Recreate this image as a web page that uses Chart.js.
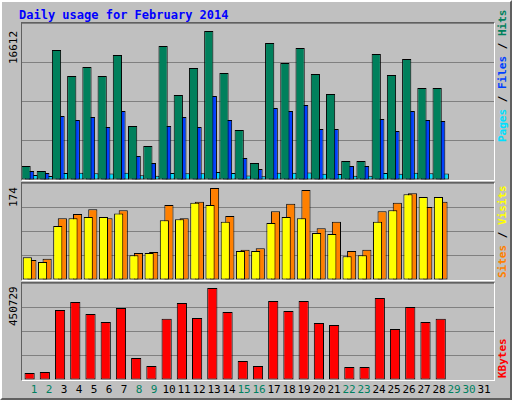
<!DOCTYPE html>
<html>
<head>
<meta charset="utf-8">
<script src="https://cdn.jsdelivr.net/npm/chart.js@4"></script>
<style>
  body { margin: 0; background: #fff; }
  #frame { position: absolute; left: 0; top: 0; width: 508px; height: 396px; background: #C0C0C0;
           border: 2px solid; border-color: #fff #606060 #606060 #fff; font-family: "DejaVu Sans Mono", monospace; }
  .panel { position: absolute; left: 19px; width: 472px; border: 1px solid; border-color: #606060 #fff #fff #606060; }
  .panel canvas { display: block; }
  .up { position: absolute; transform: rotate(-90deg); transform-origin: left top; white-space: nowrap; font-size: 11px; }
  .b { font-weight: bold; }
  #title { position: absolute; left: 17px; top: 6px; color: #0000FF; font-size: 12px; font-weight: bold; }
  .day { position: absolute; top: 381px; width: 16px; text-align: center; font-size: 11px; }
</style>
</head>
<body>
<div id="frame">
  <div id="title">Daily usage for February 2014</div>
  <div class="panel" style="top:20px;height:157px"><canvas id="c1" width="472" height="157"></canvas></div>
  <div class="panel" style="top:180px;height:97px"><canvas id="c2" width="472" height="97"></canvas></div>
  <div class="panel" style="top:280px;height:97px"><canvas id="c3" width="472" height="97"></canvas></div>
  <div class="up" style="left:5px;top:62px;color:#000">16612</div>
  <div class="up" style="left:5px;top:205px;color:#000">174</div>
  <div class="up" style="left:5px;top:324px;color:#000">450729</div>
  <div class="up b" style="left:494px;top:140px"><span style="color:#00E0FF">Pages</span> / <span style="color:#0040FF">Files</span> / <span style="color:#00805C">Hits</span></div>
  <div class="up b" style="left:494px;top:276px"><span style="color:#FF8000">Sites</span> / <span style="color:#FFFF00">Visits</span></div>
  <div class="up b" style="left:494px;top:376px;color:#FF0000">KBytes</div>
  <div id="days"></div>
</div>
<script>
const days = Array.from({length: 31}, (_, i) => String(i + 1));
const weekendDays = [1, 2, 8, 9, 15, 16, 22, 23, 29, 30];

const hits = [1561, 1004, 14495, 11596, 12600, 11596, 13938, 6021, 3791, 14941, 9478, 12488, 16612, 11931,
  5575, 1896, 15276, 13046, 14718, 11819, 9589, 2119, 2119, 14049, 11708, 13492, 10258, 10258, null, null, null];
const files = [1004, 781, 7136, 6690, 7025, 5910, 7694, 2676, 1896, 6021, 7025, 5910, 9366, 6690,
  2453, 1227, 8028, 7694, 8363, 5687, 5687, 1561, 1561, 6802, 5464, 7694, 6690, 6579, null, null, null];
const pages = [560, 450, 780, 800, 760, 720, 820, 520, 480, 790, 760, 740, 900, 780,
  500, 430, 820, 800, 840, 700, 680, 470, 460, 780, 700, 800, 740, 720, null, null, null];
const visits = [43, 34, 102, 117, 119, 119, 126, 47, 51, 113, 115, 146, 142, 110,
  55, 55, 108, 119, 117, 89, 87, 45, 47, 110, 132, 162, 157, 157, null, null, null];
const sites = [38, 40, 117, 125, 134, 117, 132, 51, 53, 142, 117, 148, 174, 121,
  57, 60, 130, 144, 170, 98, 110, 55, 57, 130, 146, 164, 138, 148, null, null, null];
const kbytes = [34296, 39195, 342930, 382122, 323334, 284142, 352728, 107778, 68586, 299839, 377223,
  303738, 450729, 333132, 93081, 68586, 387021, 338031, 387021, 279243, 269445, 63687, 63687, 401718,
  249849, 357627, 284142, 299839, null, null, null];

days.forEach((d, i) => {
  const s = document.createElement('div');
  s.className = 'day';
  s.style.left = (24 + i * 15) + 'px';
  s.style.color = weekendDays.includes(i + 1) ? '#008060' : '#000';
  s.textContent = d;
  document.getElementById('days').appendChild(s);
});

function panel(id, sets, top, cat, bar) {
  new Chart(document.getElementById(id), {
    type: 'bar',
    data: {
      labels: days,
      datasets: sets.map(s => ({ data: s[0], backgroundColor: s[1], borderColor: '#000', borderWidth: 1,
        borderSkipped: false, categoryPercentage: cat, barPercentage: bar }))
    },
    options: {
      responsive: false, animation: false,
      layout: { padding: 0 },
      plugins: { legend: { display: false }, tooltip: { enabled: false } },
      scales: {
        x: { display: false },
        y: { min: 0, max: top, ticks: { display: false, stepSize: top / 4 },
             grid: { color: '#808080', drawTicks: false }, border: { display: false } }
      }
    }
  });
}

panel('c1', [[hits, '#00805C'], [files, '#0040FF'], [pages, '#00E0FF']], 16612 * 157 / 149, 0.7, 2.6);
panel('c2', [[visits, '#FFFF00'], [sites, '#FF8000']], 174 * 97 / 92, 0.6, 2);
panel('c3', [[kbytes, '#FF0000']], 450729 * 97 / 92, 0.67, 1);
</script>
</body>
</html>
